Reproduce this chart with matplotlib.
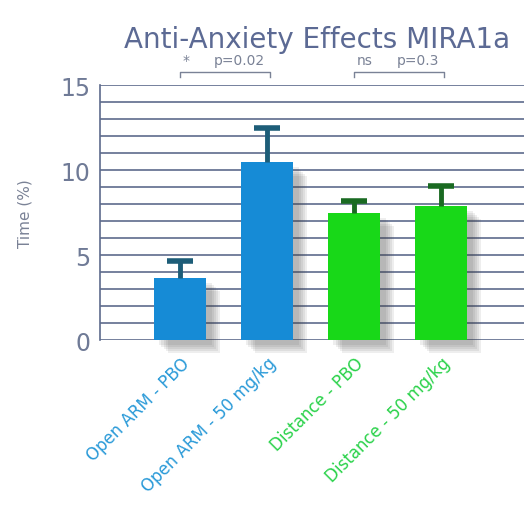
import numpy as np
import matplotlib.pyplot as plt

plt.rcParams["font.family"] = ["DejaVu Sans"]

# chart data
groups = ["Open ARM - PBO", "Open ARM - 50 mg/kg", "Distance - PBO", "Distance - 50 mg/kg"]
values = [3.65, 10.45, 7.5, 7.9]
errors = [1.0, 2.0, 0.7, 1.15]
bar_colors = ["#168bd6", "#168bd6", "#18d818", "#18d818"]
err_colors = ["#1d5d78", "#1d5d78", "#1a6a22", "#1a6a22"]
label_colors = ["#2a9ad8", "#2a9ad8", "#2ad24a", "#2ad24a"]
comparisons = [(0, 1, "*", "p=0.02"), (2, 3, "ns", "p=0.3")]
yticks = [0, 5, 10, 15]

fig = plt.figure(figsize=(5.24, 5.06), dpi=100)
ax = fig.add_axes([0.191, 0.326, 0.809, 0.504])
x = np.arange(len(groups))

# horizontal rules every unit
for y in range(0, 16):
    ax.axhline(y, color="#5d6b8c", lw=1.2, zorder=1)

# soft drop shadows
for k in range(5):
    ax.bar(x + 0.06 + k * 0.025, values, width=0.6, bottom=-0.3 - k * 0.12,
           color="#444444", alpha=0.09, zorder=2, clip_on=False)

ax.bar(x, values, width=0.6, color=bar_colors, zorder=3)

for i in range(len(groups)):
    top = values[i] + errors[i]
    ax.plot([x[i], x[i]], [values[i], top], color=err_colors[i], lw=3.5, zorder=4,
            solid_capstyle="butt")
    ax.plot([x[i] - 0.15, x[i] + 0.15], [top, top], color=err_colors[i], lw=4,
            zorder=4, solid_capstyle="butt")

ax.set_xlim(-0.92, 3.95)
ax.set_ylim(0, 15)
ax.set_yticks(yticks)
ax.set_yticklabels([str(t) for t in yticks], fontsize=17, color="#6f7a96")
ax.tick_params(axis="y", length=0, pad=7)
ax.set_xticks(x)
ax.set_xticklabels(groups, rotation=45, ha="right", rotation_mode="anchor",
                   fontsize=12)
for lbl, c in zip(ax.get_xticklabels(), label_colors):
    lbl.set_color(c)
ax.tick_params(axis="x", length=0, pad=10)
ax.set_ylabel("Time (%)", fontsize=11, color="#7a8296", labelpad=20)

for side in ["top", "right", "bottom"]:
    ax.spines[side].set_visible(False)
ax.spines["left"].set_color("#5d6b8c")
ax.spines["left"].set_linewidth(1.2)

# significance brackets above plot
for a, b, mark, ptxt in comparisons:
    ax.plot([x[a], x[a], x[b] + 0.03, x[b] + 0.03], [15.5, 15.75, 15.75, 15.5],
            color="#7a8296", lw=1, clip_on=False)
    ax.text(x[a] + 0.03, 16.05, mark, ha="left", va="bottom",
            fontsize=10, color="#7a8296")
    ax.text(x[b] - 0.03, 16.05, ptxt, ha="right", va="bottom",
            fontsize=10, color="#7a8296")

fig.text(0.605, 0.92, "Anti-Anxiety Effects MIRA1a", ha="center", va="center",
         fontsize=20, color="#5c6a94")

fig.savefig("out.png", dpi=100)
